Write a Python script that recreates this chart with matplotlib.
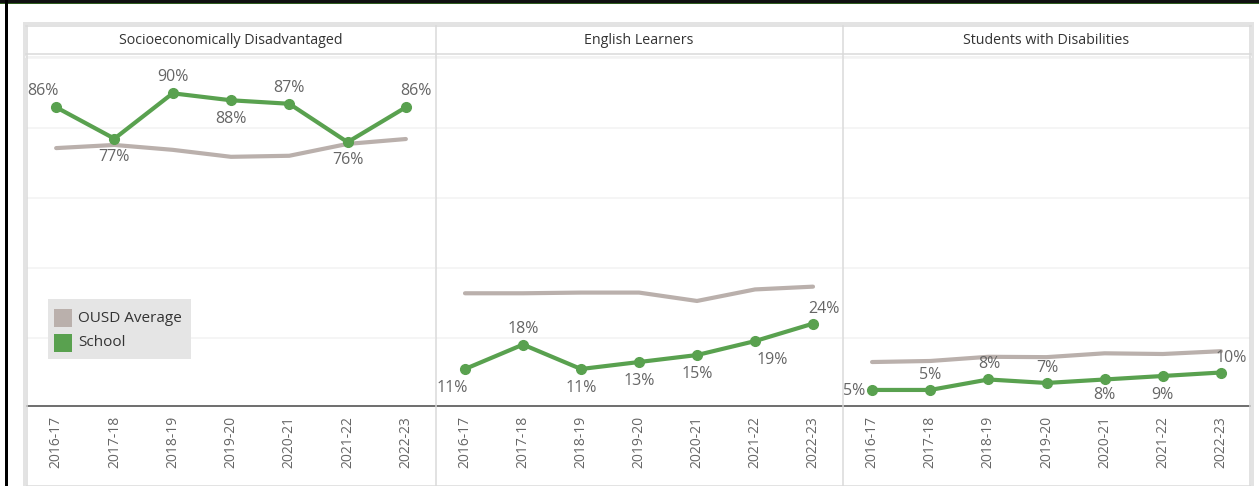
import matplotlib
matplotlib.use("Agg")
import matplotlib.pyplot as plt
from matplotlib.patches import Rectangle
from matplotlib.lines import Line2D

plt.rcParams['font.family'] = ['Open Sans', 'DejaVu Sans']

# ---- data ----
years = ["2016-17", "2017-18", "2018-19", "2019-20", "2020-21", "2021-22", "2022-23"]
groups = ["Socioeconomically Disadvantaged", "English Learners", "Students with Disabilities"]

school_sed = [86, 77, 90, 88, 87, 76, 86]
school_el = [11, 18, 11, 13, 15, 19, 24]
school_swd = [5, 5, 8, 7, 8, 9, 10]

ousd_sed = [74.3, 75.2, 73.8, 71.8, 72.1, 75.5, 76.9]
ousd_el = [32.7, 32.7, 32.9, 32.9, 30.5, 33.8, 34.6]
ousd_swd = [13.0, 13.3, 14.5, 14.4, 15.5, 15.3, 16.1]

school = [school_sed, school_el, school_swd]
ousd = [ousd_sed, ousd_el, ousd_swd]

# label offsets in pixels (dx, dy) per point
offsets = [
    [(-13, 16), (0, -18), (0, 16), (0, -19), (0, 16), (0, -18), (10, 16)],
    [(-13, -19), (0, 16), (0, -19), (0, -19), (0, -19), (17, -19), (11, 15)],
    [(-18, -1), (0, 15), (1, 15), (1, 15), (0, -16), (0, -19), (10, 14)],
]

GREEN = "#59a14f"
GREY = "#bab0ac"
TXT = "#666666"

W, H = 1259, 486
fig = plt.figure(figsize=(W / 100, H / 100), dpi=100)


def fx(x):
    return x / W


def fy(y):
    return 1 - y / H


def fig_line(x0, y0, x1, y1, color, lw):
    fig.add_artist(Line2D([fx(x0), fx(x1)], [fy(y0), fy(y1)], color=color,
                          lw=lw * 0.72, transform=fig.transFigure, zorder=5))


# outer frame and decorations
fig.add_artist(Rectangle((fx(24), fy(486)), fx(1252) - fx(24), fy(23) - fy(486),
                         transform=fig.transFigure, facecolor="white",
                         edgecolor="#e3e3e3", lw=3 * 0.72, zorder=0))
fig_line(0, 1, W, 1, "#111111", 3)
fig_line(0, 3, W, 3, "#2f5d1f", 1)
fig_line(6, 0, 6, H, "#000000", 3)

panel_x = [(27, 435), (436, 842), (843, 1250)]
top_px, bot_px = 54, 407.4
ymax = (bot_px - top_px) / 3.49

for i, (x0, x1) in enumerate(panel_x):
    ax = fig.add_axes([fx(x0), fy(bot_px), fx(x1) - fx(x0), fy(top_px) - fy(bot_px)])
    ax.patch.set_alpha(0)
    for s in ["top", "left", "right"]:
        ax.spines[s].set_visible(False)
    ax.spines["bottom"].set_position(("data", 0.3))
    ax.spines["bottom"].set_color("#555555")
    ax.spines["bottom"].set_linewidth(1.2)
    ax.set_xlim(-0.5, 6.5)
    ax.set_ylim(0, ymax)
    for g in [20, 40, 60, 80, 100]:
        ax.axhline(g, color="#f3f3f3", lw=1.2, zorder=0)
    xs = range(len(years))
    ax.plot(xs, ousd[i], color=GREY, lw=3, solid_capstyle="round", zorder=2)
    ax.plot(xs, school[i], color=GREEN, lw=3, marker="o", ms=7, zorder=3)
    for j, v in enumerate(school[i]):
        dx, dy = offsets[i][j]
        ax.annotate(f"{v}%", (j, v), xytext=(dx, dy), textcoords="offset pixels",
                    ha="center", va="center", fontsize=11.5, color=TXT, zorder=4)
    ax.set_xticks(list(xs))
    ax.set_xticklabels(years, rotation=90, fontsize=10, color=TXT)
    ax.tick_params(axis="x", length=0, pad=7)
    ax.set_yticks([])
    # header
    fig.text(fx((x0 + x1) / 2), fy(41), groups[i], ha="center", va="center",
             fontsize=10.3, color="#333333")

# header / pane borders
fig_line(26, 26, 1251, 26, "#d9d9d9", 1.5)
fig_line(26, 54, 1251, 54, "#d9d9d9", 1.5)
fig_line(26, 57, 1251, 57, "#f2f2f2", 2)
fig_line(27, 26, 27, H, "#d9d9d9", 1.5)
fig_line(435.5, 26, 435.5, H, "#d9d9d9", 1.5)
fig_line(842.5, 26, 842.5, H, "#d9d9d9", 1.5)
fig_line(1250, 26, 1250, H, "#d9d9d9", 1.5)

# legend
fig.add_artist(Rectangle((fx(48), fy(359)), fx(191) - fx(48), fy(299) - fy(359),
                         transform=fig.transFigure, facecolor="#e5e5e5",
                         edgecolor="none", zorder=6))
for k, (lab, col) in enumerate([("OUSD Average", GREY), ("School", GREEN)]):
    yc = 318 + k * 25
    fig.add_artist(Rectangle((fx(54), fy(yc + 9)), fx(18), fy(0) - fy(18),
                             transform=fig.transFigure, facecolor=col,
                             edgecolor="none", zorder=7))
    fig.text(fx(78), fy(yc), lab, ha="left", va="center", fontsize=11,
             color="#333333", zorder=8)

fig.savefig("out.png", dpi=100)
